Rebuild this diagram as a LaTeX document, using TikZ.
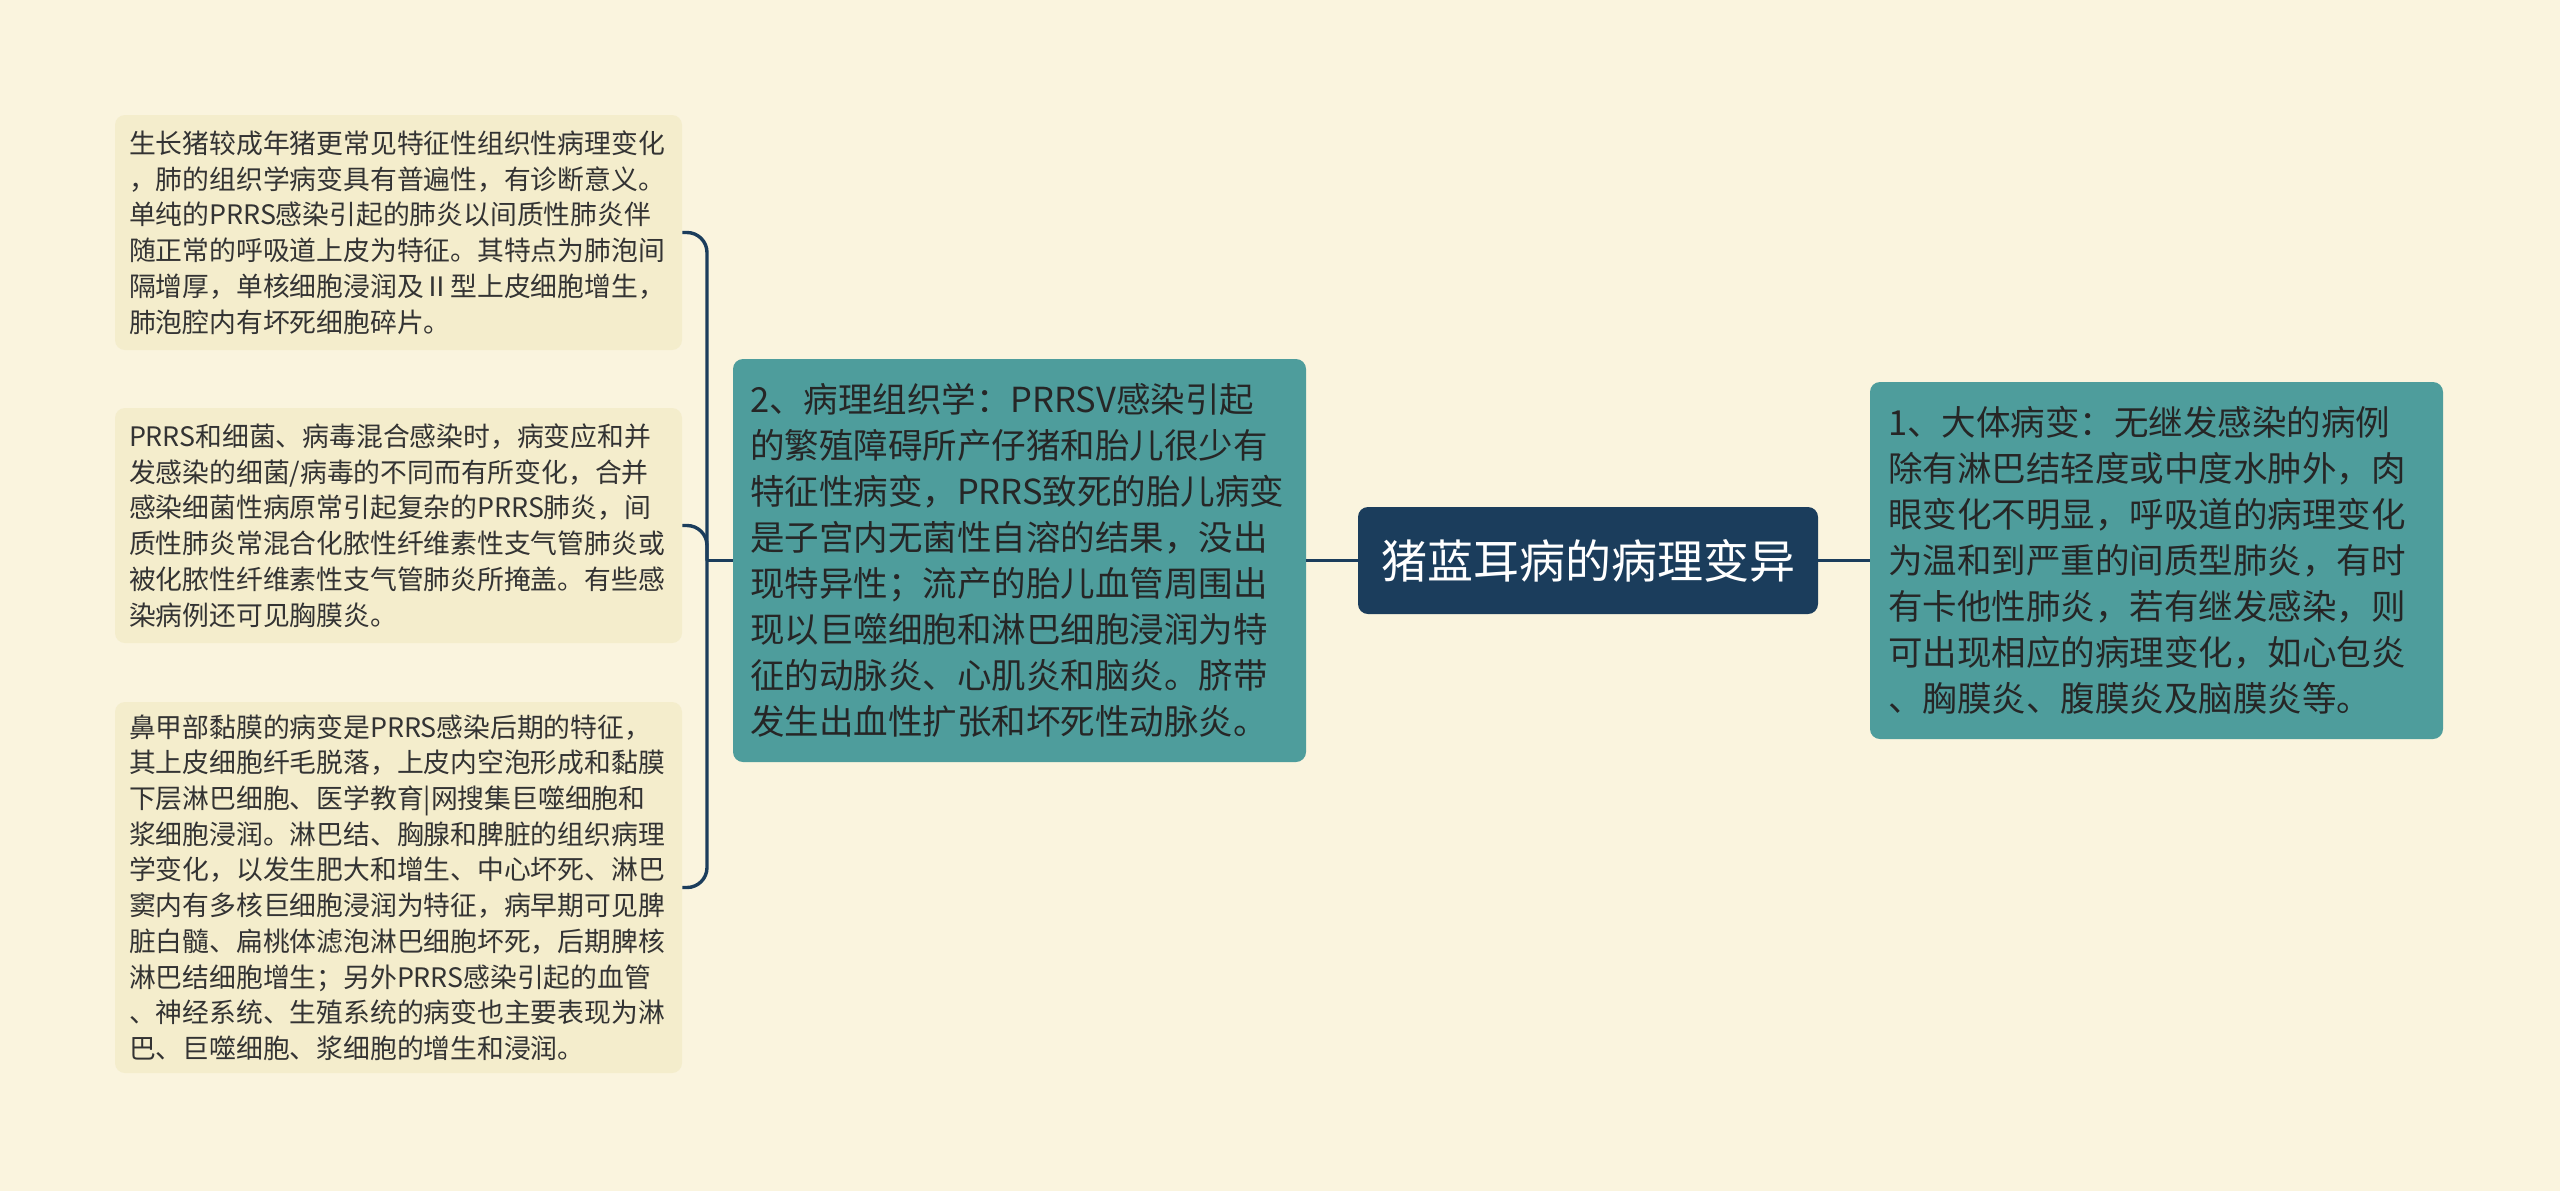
\documentclass[tikz,border=0pt]{standalone}
\usepackage{fontspec}
\setmainfont{Noto Sans CJK SC}
\definecolor{paper}{HTML}{FAF4DE}
\definecolor{leaffill}{HTML}{F4EDCC}
\definecolor{branchfill}{HTML}{4E9D9C}
\definecolor{rootfill}{HTML}{1B3D5C}
\begin{document}
\begin{tikzpicture}[x=0.5pt,y=-0.5pt,
    leaf/.style={fill=leaffill, rounded corners=5pt, text=black!80, align=left,
      inner xsep=7pt, inner ysep=0pt, text width=269.5pt,
      font=\fontsize{13.4pt}{17.85pt}\selectfont},
    branch/.style={fill=branchfill, rounded corners=5pt, text=black!85, align=left,
      inner ysep=0pt, font=\fontsize{17.25pt}{23pt}\selectfont},
    topic/.style={fill=rootfill, rounded corners=5pt, text=white, align=center,
      minimum width=230pt, minimum height=53.5pt, inner sep=0pt,
      font=\fontsize{23pt}{28pt}\selectfont},
    link/.style={draw=rootfill, line width=1.7pt, rounded corners=10pt}]
  \fill[paper] (0,0) rectangle (2560,1191);
  % nodes
  \node[topic] (root) at (1588,560.5) {猪蓝耳病的病理变异};
  \node[branch, inner xsep=9pt, text width=268.5pt, minimum height=178.5pt]
    (gross) at (2156.5,560.5) {1、大体病变：无继发感染的病例\\除有淋巴结轻度或中度水肿外，肉\\眼变化不明显，呼吸道的病理变化\\为温和到严重的间质型肺炎，有时\\有卡他性肺炎，若有继发感染，则\\可出现相应的病理变化，如心包炎\\、胸膜炎、腹膜炎及脑膜炎等。};
  \node[branch, inner xsep=8.5pt, text width=269.5pt, minimum height=201.5pt]
    (histo) at (1019.5,560.5) {2、病理组织学：PRRSV感染引起\\的繁殖障碍所产仔猪和胎儿很少有\\特征性病变，PRRS致死的胎儿病变\\是子宫内无菌性自溶的结果，没出\\现特异性；流产的胎儿血管周围出\\现以巨噬细胞和淋巴细胞浸润为特\\征的动脉炎、心肌炎和脑炎。脐带\\发生出血性扩张和坏死性动脉炎。};
  \node[leaf, minimum height=117.5pt] (lung) at (398.5,232.5) {生长猪较成年猪更常见特征性组织性病理变化\\，肺的组织学病变具有普遍性，有诊断意义。\\单纯的PRRS感染引起的肺炎以间质性肺炎伴\\随正常的呼吸道上皮为特征。其特点为肺泡间\\隔增厚，单核细胞浸润及Ⅱ型上皮细胞增生，\\肺泡腔内有坏死细胞碎片。};
  \node[leaf, minimum height=117.5pt] (mixed) at (398.5,525.5) {PRRS和细菌、病毒混合感染时，病变应和并\\发感染的细菌/病毒的不同而有所变化，合并\\感染细菌性病原常引起复杂的PRRS肺炎，间\\质性肺炎常混合化脓性纤维素性支气管肺炎或\\被化脓性纤维素性支气管肺炎所掩盖。有些感\\染病例还可见胸膜炎。};
  \node[leaf, minimum height=185.5pt] (nasal) at (398.5,887.5) {鼻甲部黏膜的病变是PRRS感染后期的特征，\\其上皮细胞纤毛脱落，上皮内空泡形成和黏膜\\下层淋巴细胞、医学教育|网搜集巨噬细胞和\\浆细胞浸润。淋巴结、胸腺和脾脏的组织病理\\学变化，以发生肥大和增生、中心坏死、淋巴\\窦内有多核巨细胞浸润为特征，病早期可见脾\\脏白髓、扁桃体滤泡淋巴细胞坏死，后期脾核\\淋巴结细胞增生；另外PRRS感染引起的血管\\、神经系统、生殖系统的病变也主要表现为淋\\巴、巨噬细胞、浆细胞的增生和浸润。};
  \coordinate (fork) at (707,560.5);
  % connectors
  \begin{scope}[link]
    \draw (root) -- (gross);
    \draw (root) -- (histo);
    \draw (histo.west) -- (fork);
    \draw (lung.east) -| (fork) |- (nasal.east);
    \draw (mixed.east) -| (fork);
  \end{scope}
\end{tikzpicture}
\end{document}
